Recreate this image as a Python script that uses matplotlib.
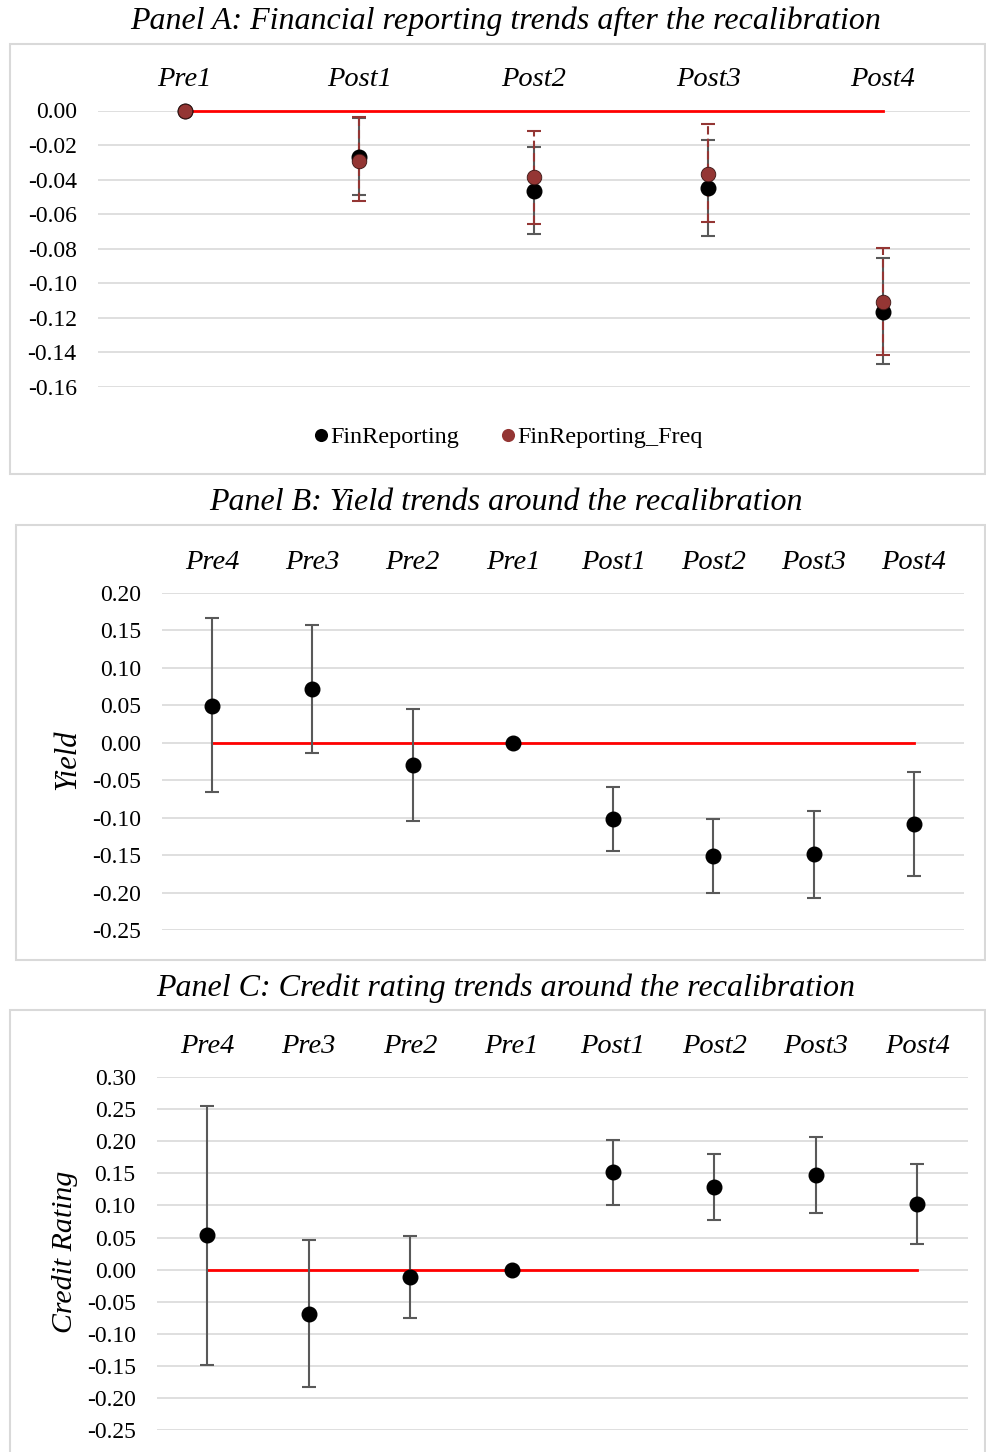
import matplotlib
matplotlib.use("Agg")
import matplotlib.pyplot as plt
from matplotlib.patches import Rectangle
import numpy as np

plt.rcParams['font.family'] = ['Liberation Serif', 'DejaVu Serif']

# ---------------- Data ----------------
cats_a = ["Pre1", "Post1", "Post2", "Post3", "Post4"]
fin = [0.0, -0.0267, -0.0468, -0.0448, -0.1165]
fin_hi = [0.0, -0.0045, -0.0213, -0.0168, -0.0856]
fin_lo = [0.0, -0.0490, -0.0715, -0.0725, -0.1469]
freq = [0.0, -0.0290, -0.0387, -0.0367, -0.1107]
freq_hi = [0.0, -0.0040, -0.0116, -0.0077, -0.0796]
freq_lo = [0.0, -0.0526, -0.0655, -0.0647, -0.1417]

cats_bc = ["Pre4", "Pre3", "Pre2", "Pre1", "Post1", "Post2", "Post3", "Post4"]
yld = [0.0493, 0.0712, -0.0297, 0.0, -0.1020, -0.1510, -0.1489, -0.1089]
yld_hi = [0.1667, 0.1570, 0.0450, 0.0, -0.0595, -0.1017, -0.0907, -0.0395]
yld_lo = [-0.0653, -0.0133, -0.1040, 0.0, -0.1444, -0.2000, -0.2067, -0.1777]

cr = [0.0534, -0.0690, -0.0120, 0.0, 0.1515, 0.1287, 0.1468, 0.1027]
cr_hi = [0.2553, 0.0462, 0.0529, 0.0, 0.2019, 0.1800, 0.2060, 0.1645]
cr_lo = [-0.1480, -0.1830, -0.0758, 0.0, 0.1001, 0.0768, 0.0877, 0.0405]

yt_a = [0.00, -0.02, -0.04, -0.06, -0.08, -0.10, -0.12, -0.14, -0.16]
yt_b = [0.20, 0.15, 0.10, 0.05, 0.00, -0.05, -0.10, -0.15, -0.20, -0.25]
yt_c = [0.30, 0.25, 0.20, 0.15, 0.10, 0.05, 0.00, -0.05, -0.10, -0.15, -0.20, -0.25]

# ---------------- Figure ----------------
W, H = 986, 1452
fig = plt.figure(figsize=(W / 100, H / 100), dpi=100)

GRID = '#d9d9d9'
ERR = '#595959'
RED = '#ff0000'
DARKRED = '#943634'
TICKFS = 17
CATFS = 20.5
TITLEFS = 23


def px_axes(x0, x1, ytop, ybot):
    return fig.add_axes([x0 / W, 1 - ybot / H, (x1 - x0) / W, (ybot - ytop) / H])


def box(x0, y0, x1, y1):
    fig.add_artist(Rectangle((x0 / W, 1 - y1 / H), (x1 - x0) / W, (y1 - y0) / H,
                             transform=fig.transFigure, fill=False,
                             edgecolor=GRID, linewidth=1.5))


def style(ax, cats, yticks):
    n = len(cats)
    ax.set_xlim(-0.5, n - 0.5)
    ax.set_ylim(min(yticks), max(yticks))
    ax.set_yticks(yticks)
    ax.set_yticklabels([f"{v:.2f}".replace("-0.00", "0.00") for v in yticks], fontsize=TICKFS)
    ax.yaxis.grid(True, color=GRID, linewidth=1.2)
    ax.set_axisbelow(True)
    ax.tick_params(axis='y', length=0, pad=15)
    ax.xaxis.tick_top()
    ax.set_xticks(range(n))
    ax.set_xticklabels(cats, fontsize=CATFS, style='italic')
    ax.tick_params(axis='x', length=0, pad=13)
    for s in ax.spines.values():
        s.set_visible(False)


def errs(ax, x, y, hi, lo, color, ls='-', z=3):
    y = np.array(y); hi = np.array(hi); lo = np.array(lo)
    eb = ax.errorbar(x, y, yerr=[y - lo, hi - y], fmt='none', ecolor=color,
                     elinewidth=1.5, capsize=5, capthick=1.5, zorder=z, clip_on=False)
    for c in eb[2]:
        c.set_linestyle(ls)
    return eb


# ---------------- Panel A ----------------
box(10, 44, 985, 474)
fig.text(506 / W, 1 - 21 / H, "Panel A: Financial reporting trends after the recalibration",
         ha='center', va='center', fontsize=TITLEFS, style='italic')
axA = px_axes(97.5, 970, 110.5, 387)
style(axA, cats_a, yt_a)
xa = np.arange(len(cats_a))
axA.plot([xa[0], xa[-1]], [0, 0], color=RED, linewidth=2, zorder=2, clip_on=False)
mask = np.array(fin_hi) != np.array(fin_lo)
errs(axA, xa[mask], np.array(fin)[mask], np.array(fin_hi)[mask], np.array(fin_lo)[mask], ERR, '-', 3)
errs(axA, xa[mask], np.array(freq)[mask], np.array(freq_hi)[mask], np.array(freq_lo)[mask], DARKRED, (0, (4, 2)), 4)
axA.plot(xa, fin, 'o', color='black', markersize=10.5, zorder=5, clip_on=False, label='FinReporting')
axA.plot(xa, freq, 'o', color=DARKRED, markersize=10.5, zorder=6, clip_on=False,
         markeredgecolor='#3a1514', markeredgewidth=0.6, label='FinReporting_Freq')
leg = axA.legend(loc='center', bbox_to_anchor=(508 / W, 1 - 437 / H), bbox_transform=fig.transFigure,
                 ncol=2, frameon=False, fontsize=17.4, handlelength=0.6, handletextpad=0.1,
                 columnspacing=1.7, markerscale=0.9)
for h in leg.legend_handles:
    h.set_markeredgewidth(0)

# ---------------- Panel B ----------------
box(16, 525, 985, 960)
fig.text(506 / W, 1 - 503 / H, "Panel B: Yield trends around the recalibration",
         ha='center', va='center', fontsize=TITLEFS, style='italic')
axB = px_axes(162, 964, 592.7, 930.3)
style(axB, cats_bc, yt_b)
xb = np.arange(len(cats_bc))
axB.plot([xb[0], xb[-1]], [0, 0], color=RED, linewidth=2, zorder=2)
mb = np.array(yld_hi) != np.array(yld_lo)
errs(axB, xb[mb], np.array(yld)[mb], np.array(yld_hi)[mb], np.array(yld_lo)[mb], ERR)
axB.plot(xb, yld, 'o', color='black', markersize=10.5, zorder=5, clip_on=False)
fig.text(68 / W, 1 - 760 / H, "Yield", rotation=90, ha='center', va='center',
         fontsize=22, style='italic')

# ---------------- Panel C ----------------
box(10, 1010, 985, 1460)
fig.text(506 / W, 1 - 988 / H, "Panel C: Credit rating trends around the recalibration",
         ha='center', va='center', fontsize=TITLEFS, style='italic')
axC = px_axes(156.5, 968, 1077, 1430.3)
style(axC, cats_bc, yt_c)
axC.plot([xb[0], xb[-1]], [0, 0], color=RED, linewidth=2, zorder=2)
mc = np.array(cr_hi) != np.array(cr_lo)
errs(axC, xb[mc], np.array(cr)[mc], np.array(cr_hi)[mc], np.array(cr_lo)[mc], ERR)
axC.plot(xb, cr, 'o', color='black', markersize=10.5, zorder=5, clip_on=False)
fig.text(65 / W, 1 - 1252 / H, "Credit Rating", rotation=90, ha='center', va='center',
         fontsize=21.5, style='italic')

fig.savefig("out.png", dpi=100, facecolor='white')
